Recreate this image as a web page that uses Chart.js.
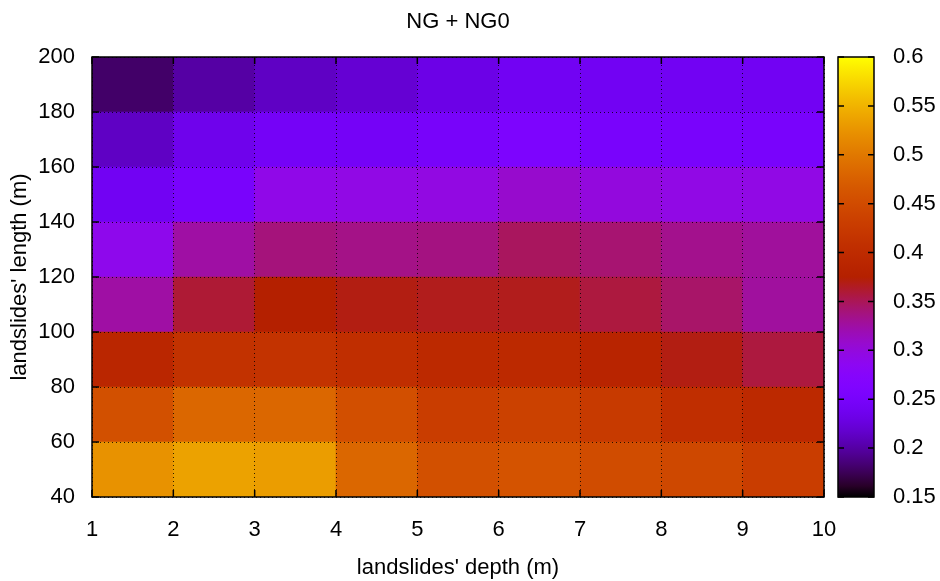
<!DOCTYPE html>
<html>
<head>
<meta charset="utf-8">
<script src="https://cdn.jsdelivr.net/npm/chart.js@4/dist/chart.umd.min.js"></script>
<style>
  body { margin: 0; background: #fff; }
  #wrap { position: relative; width: 940px; height: 581px; }
  #heatChart { position: absolute; left: 0; top: 0; }
  #barChart { position: absolute; left: 820px; top: 0; }
</style>
</head>
<body>
<div id="wrap">
  <canvas id="heatChart" width="940" height="581"></canvas>
  <canvas id="barChart" width="120" height="581"></canvas>
</div>
<script>
// depth (x) cell edges and length (y) cell edges
var depthTicks = [1, 2, 3, 4, 5, 6, 7, 8, 9, 10];
var lengthTicks = [40, 60, 80, 100, 120, 140, 160, 180, 200];
var colorTicks = [0.15, 0.2, 0.25, 0.3, 0.35, 0.4, 0.45, 0.5, 0.55, 0.6];

// values per row, bottom (40-60) to top (180-200), one per depth cell
var row40 = [0.524, 0.537, 0.533, 0.483, 0.456, 0.460, 0.450, 0.445, 0.430];
var row60 = [0.456, 0.483, 0.483, 0.455, 0.429, 0.435, 0.425, 0.404, 0.394];
var row80 = [0.389, 0.411, 0.413, 0.404, 0.395, 0.394, 0.385, 0.370, 0.357];
var row100 = [0.325, 0.360, 0.375, 0.370, 0.367, 0.367, 0.357, 0.345, 0.327];
var row120 = [0.290, 0.325, 0.339, 0.335, 0.337, 0.348, 0.342, 0.333, 0.328];
var row140 = [0.240, 0.252, 0.293, 0.295, 0.297, 0.308, 0.300, 0.295, 0.295];
var row160 = [0.213, 0.235, 0.245, 0.245, 0.249, 0.258, 0.252, 0.252, 0.252];
var row180 = [0.180, 0.200, 0.213, 0.220, 0.231, 0.240, 0.240, 0.240, 0.240];
var rows = [row40, row60, row80, row100, row120, row140, row160, row180];

var cbMin = 0.15, cbMax = 0.6;
var FONT = '"Liberation Sans", Arial, sans-serif';

// gnuplot default palette (rgbformulae 7,5,15)
function palette(v) {
  var x = (v - cbMin) / (cbMax - cbMin);
  x = Math.max(0, Math.min(1, x));
  var r = Math.sqrt(x);
  var g = x * x * x;
  var b = Math.max(0, Math.sin(2 * Math.PI * x));
  return 'rgb(' + Math.round(r * 255) + ',' + Math.round(g * 255) + ',' + Math.round(b * 255) + ')';
}

// inward tick marks + frame around the plot area
var framePlugin = {
  id: 'frame',
  afterDraw: function(chart, args, opts) {
    var a = chart.chartArea;
    var ctx = chart.ctx;
    ctx.save();
    ctx.strokeStyle = '#000';
    ctx.lineWidth = 1.5;
    var len = opts.tickLen || 0;
    if (len) {
      Object.keys(chart.scales).forEach(function(id) {
        var s = chart.scales[id];
        if (!s.options.display) return;
        s.ticks.forEach(function(t) {
          var p = s.getPixelForValue(t.value);
          ctx.beginPath();
          if (s.isHorizontal()) {
            ctx.moveTo(p, a.bottom); ctx.lineTo(p, a.bottom - len);
            ctx.moveTo(p, a.top); ctx.lineTo(p, a.top + len);
          } else {
            ctx.moveTo(a.left, p); ctx.lineTo(a.left + len, p);
            ctx.moveTo(a.right, p); ctx.lineTo(a.right - len, p);
          }
          ctx.stroke();
        });
      });
    }
    ctx.strokeRect(a.left, a.top, a.right - a.left, a.bottom - a.top);
    ctx.restore();
  }
};

function initializeHeatChart() {
  var datasets = rows.map(function(vals, r) {
    return {
      data: vals.map(function(v, c) {
        return { x: depthTicks[c] + 0.5, y: [lengthTicks[r], lengthTicks[r + 1]] };
      }),
      backgroundColor: vals.map(palette),
      borderWidth: 0,
      barPercentage: 1,
      categoryPercentage: 1,
      grouped: false
    };
  });

  new Chart(document.getElementById('heatChart'), {
    type: 'bar',
    data: { datasets: datasets },
    plugins: [framePlugin],
    options: {
      responsive: false,
      animation: false,
      layout: { padding: { left: 0, right: 116, top: 0, bottom: 0 } },
      plugins: {
        legend: { display: false },
        tooltip: { enabled: false },
        frame: { tickLen: 7 },
        title: {
          display: true,
          fullSize: false,
          text: 'NG + NG0',
          color: '#000',
          font: { family: FONT, size: 22, weight: 'normal', lineHeight: 1.2 },
          padding: { top: 9, bottom: 21.6 }
        }
      },
      scales: {
        x: {
          type: 'linear',
          min: 1,
          max: 10,
          offset: false,
          afterBuildTicks: function(axis) {
            axis.ticks = depthTicks.map(function(v) { return { value: v }; });
          },
          afterFit: function(axis) { axis.height = 84; },
          grid: { color: 'rgba(0,0,0,0.8)', lineWidth: 1, drawTicks: false, offset: false, z: 1 },
          border: { display: false, dash: [1, 3] },
          ticks: { color: '#000', padding: 20, maxRotation: 0, font: { family: FONT, size: 22 } },
          title: {
            display: true,
            text: "landslides' depth (m)",
            color: '#000',
            font: { family: FONT, size: 22 },
            padding: { top: 0, bottom: 0 }
          }
        },
        y: {
          type: 'linear',
          min: 40,
          max: 200,
          afterBuildTicks: function(axis) {
            axis.ticks = lengthTicks.map(function(v) { return { value: v }; });
          },
          afterFit: function(axis) { axis.width = 92; },
          grid: { color: 'rgba(0,0,0,0.8)', lineWidth: 1, drawTicks: false, z: 1 },
          border: { display: false, dash: [1, 3] },
          ticks: { color: '#000', padding: 17, font: { family: FONT, size: 22 } },
          title: {
            display: true,
            text: "landslides' length (m)",
            color: '#000',
            font: { family: FONT, size: 22 },
            padding: { top: 7, bottom: 0 }
          }
        }
      }
    }
  });
}

function initializeColorBar() {
  new Chart(document.getElementById('barChart'), {
    type: 'bar',
    data: {
      labels: [''],
      datasets: [{
        data: [[cbMin, cbMax]],
        borderWidth: 0,
        barPercentage: 1,
        categoryPercentage: 1,
        backgroundColor: function(ctx) {
          var a = ctx.chart.chartArea;
          if (!a) return '#000';
          var grad = ctx.chart.ctx.createLinearGradient(0, a.bottom, 0, a.top);
          for (var i = 0; i <= 40; i++) {
            grad.addColorStop(i / 40, palette(cbMin + (cbMax - cbMin) * i / 40));
          }
          return grad;
        }
      }]
    },
    plugins: [framePlugin],
    options: {
      responsive: false,
      animation: false,
      layout: { padding: { left: 18, right: 0, top: 57, bottom: 84 } },
      plugins: {
        legend: { display: false },
        tooltip: { enabled: false },
        frame: { tickLen: 6 }
      },
      scales: {
        x: { display: false, offset: true },
        y: {
          position: 'right',
          min: cbMin,
          max: cbMax,
          afterBuildTicks: function(axis) {
            axis.ticks = colorTicks.map(function(v) { return { value: v }; });
          },
          afterFit: function(axis) { axis.width = 66; },
          grid: { display: false, drawTicks: false },
          border: { display: false },
          ticks: {
            color: '#000',
            padding: 19,
            font: { family: FONT, size: 22 },
            callback: function(v) { return String(v); }
          }
        }
      }
    }
  });
}

document.addEventListener('DOMContentLoaded', function() {
  initializeHeatChart();
  initializeColorBar();
});
</script>
</body>
</html>
